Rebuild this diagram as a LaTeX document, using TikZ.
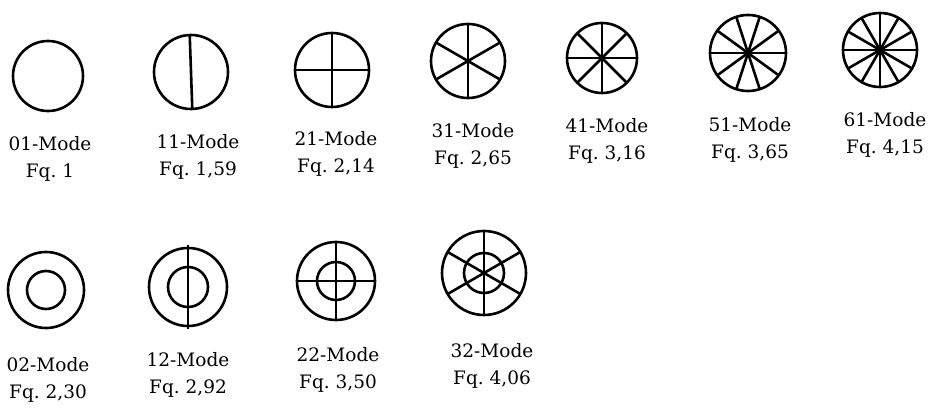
\documentclass[tikz,border=0pt]{standalone}
\usepackage{fontspec}
\setmainfont{DejaVu Serif}
\usepackage{tikz}
\usetikzlibrary{calc}

\tikzset{
  modering/.style={line width=2.6pt},
  modelabel/.style={align=center,font=\fontsize{18.5}{27}\selectfont}
}

\begin{document}
\begin{tikzpicture}[x=1pt,y=-1pt,line width=2.6pt]
  \useasboundingbox (0,0) rectangle (930,409);
  % top row: n1 modes
  \coordinate (c01) at (48,76);
  \coordinate (c11) at (191,72);
  \coordinate (c21) at (332,70);
  \coordinate (c31) at (468,61);
  \coordinate (c41) at (602,58);
  \coordinate (c51) at (748,53);
  \coordinate (c61) at (880,50);
  \draw[modering] (c01) circle[radius=35];
  \draw[modering] (c11) circle[radius=37];
  \draw (c11) ++(88:37) -- ++(268:74);
  \draw[modering] (c21) circle[radius=37];
  \foreach \a in {0,90} \draw (c21) ++(\a:37) -- ++(180+\a:74);
  \draw[modering] (c31) circle[radius=37];
  \foreach \a in {30,90,150} \draw (c31) ++(\a:37) -- ++(180+\a:74);
  \draw[modering] (c41) circle[radius=35];
  \foreach \a in {0,45,90,135} \draw (c41) ++(\a:35) -- ++(180+\a:70);
  \draw[modering] (c51) circle[radius=38];
  \foreach \a in {0,36,...,144} \draw (c51) ++(\a:38) -- ++(180+\a:76);
  \draw[modering] (c61) circle[radius=37];
  \foreach \a in {0,30,...,150} \draw (c61) ++(\a:37) -- ++(180+\a:74);
  \node[modelabel] (l01) at (50,159) {01-Mode\\Fq.~1};
  \node[modelabel] (l11) at (198,157) {11-Mode\\Fq.~1,59};
  \node[modelabel] (l21) at (336,154) {21-Mode\\Fq.~2,14};
  \node[modelabel] (l31) at (473,146) {31-Mode\\Fq.~2,65};
  \node[modelabel] (l41) at (607,141) {41-Mode\\Fq.~3,16};
  \node[modelabel] (l51) at (750,140) {51-Mode\\Fq.~3,65};
  \node[modelabel] (l61) at (885,135) {61-Mode\\Fq.~4,15};
  % bottom row: n2 modes
  \coordinate (c02) at (46,290);
  \coordinate (c12) at (188,287);
  \coordinate (c22) at (336,281);
  \coordinate (c32) at (484,273);
  \draw[modering] (c02) circle[radius=38] (c02) circle[radius=19];
  \draw[modering] (c12) circle[radius=39] (c12) circle[radius=20];
  \draw (c12) ++(0,-42) -- ++(0,84);
  \draw[modering] (c22) circle[radius=39] (c22) circle[radius=19];
  \foreach \a in {0,90} \draw (c22) ++(\a:40) -- ++(180+\a:80);
  \draw[modering] (c32) circle[radius=42] (c32) circle[radius=20];
  \foreach \a in {30,90,150} \draw (c32) ++(\a:42) -- ++(180+\a:84);
  \node[modelabel] (l02) at (48,380) {02-Mode\\Fq.~2,30};
  \node[modelabel] (l12) at (188,375) {12-Mode\\Fq.~2,92};
  \node[modelabel] (l22) at (338,370) {22-Mode\\Fq.~3,50};
  \node[modelabel] (l32) at (492,366) {32-Mode\\Fq.~4,06};
\end{tikzpicture}
\end{document}
